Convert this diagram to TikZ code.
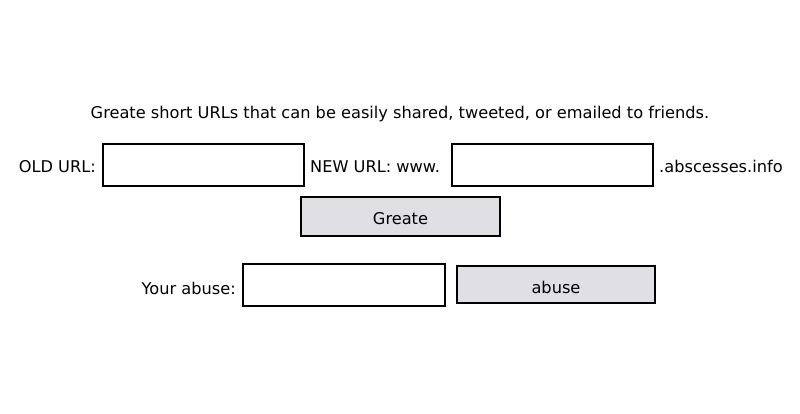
\documentclass[tikz,border=0pt]{standalone}
\usepackage{fontspec}
\setmainfont{DejaVu Sans}
\usetikzlibrary{positioning}
\definecolor{btngrey}{RGB}{224,223,227}

\begin{document}
\begin{tikzpicture}[x=1pt,y=-1pt,
  txt/.style={inner sep=0pt,font=\fontsize{16.2}{19}\selectfont},
  field/.style={draw,line width=2pt,fill=white,inner sep=0pt,
    minimum width=201pt,minimum height=42pt},
  button/.style={field,fill=btngrey,minimum width=199pt,minimum height=38pt}]
\useasboundingbox (0,0) rectangle (800,414);
\node[txt,anchor=base] (title) at (400,119)
  {Greate short URLs that can be easily shared, tweeted, or emailed to friends.};
% first row
\node[field] (oldurl) at (203.5,165) {};
\node[field] (newurl) at (552.5,165) {};
\node[txt,anchor=base east] (oldlbl) at (96,173) {OLD URL:};
\node[txt,anchor=base west] (newlbl) at (310,173) {NEW URL: www.};
\node[txt,anchor=base west] (domain) at (659,173) {.abscesses.info};
% buttons
\node[button] (create) at (400.5,216.5) {};
\node[txt,anchor=base] (createlbl) at (400.5,225) {Greate};
\node[field,minimum width=202pt] (abusefield) at (344,285) {};
\node[txt,anchor=base east] (abuselbl) at (236,294) {Your abuse:};
\node[button,minimum width=198pt,minimum height=37pt] (abusebtn) at (556,284.5) {};
\node[txt,anchor=base] (abusebtnlbl) at (556,293) {abuse};
\end{tikzpicture}
\end{document}
